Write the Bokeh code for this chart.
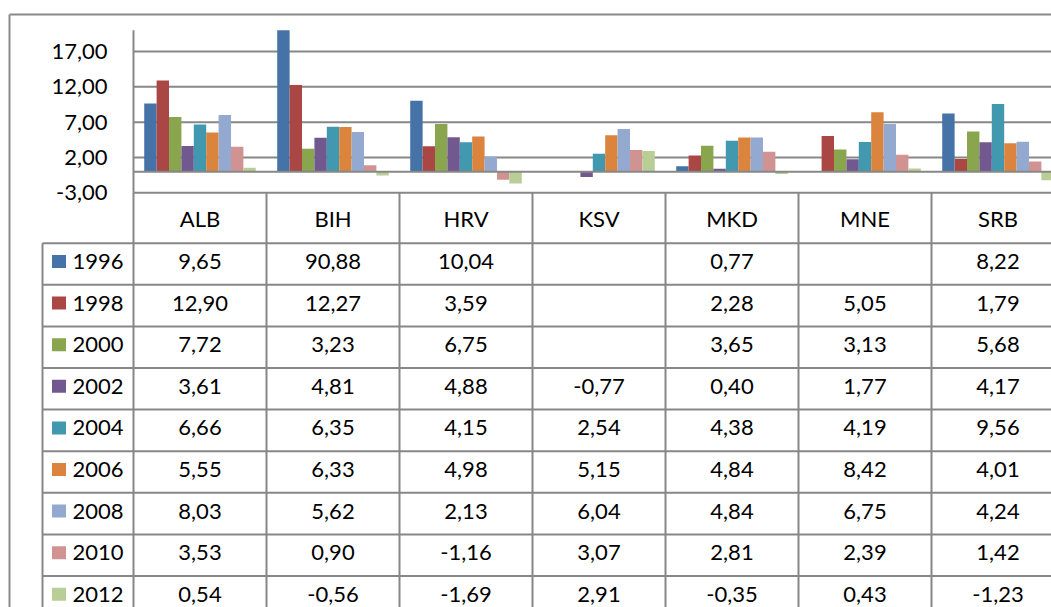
from bokeh.plotting import figure
from bokeh.models import Range1d
from bokeh.core.properties import value
from bokeh.embed import file_html
from bokeh.resources import INLINE

# ---------------- data ----------------
categories = ["ALB", "BIH", "HRV", "KSV", "MKD", "MNE", "SRB"]
years = ["1996", "1998", "2000", "2002", "2004", "2006", "2008", "2010", "2012"]
v1996 = [9.65, 90.88, 10.04, None, 0.77, None, 8.22]
v1998 = [12.90, 12.27, 3.59, None, 2.28, 5.05, 1.79]
v2000 = [7.72, 3.23, 6.75, None, 3.65, 3.13, 5.68]
v2002 = [3.61, 4.81, 4.88, -0.77, 0.40, 1.77, 4.17]
v2004 = [6.66, 6.35, 4.15, 2.54, 4.38, 4.19, 9.56]
v2006 = [5.55, 6.33, 4.98, 5.15, 4.84, 8.42, 4.01]
v2008 = [8.03, 5.62, 2.13, 6.04, 4.84, 6.75, 4.24]
v2010 = [3.53, 0.90, -1.16, 3.07, 2.81, 2.39, 1.42]
v2012 = [0.54, -0.56, -1.69, 2.91, -0.35, 0.43, -1.23]
series = [v1996, v1998, v2000, v2002, v2004, v2006, v2008, v2010, v2012]
colors = ["#4572A7", "#AA4643", "#89A54E", "#71588F", "#4198AF",
          "#DB843D", "#93A9CF", "#D19392", "#B9CD96"]
tick_values = [-3, 2, 7, 12, 17]
VMIN, VMAX = -3, 20

# ---------------- layout constants (pixels) ----------------
W, H = 1051, 607
X0, Y0 = 0, 0                 # figure origin in picture coordinates
PLOT_LEFT = 133               # left edge of category axis
CAT_W = 133                   # width of one category
Y_TICK2 = 157                 # pixel of value 2
PX_PER_UNIT = 7.067
HEADER_BOTTOM = 242.7
ROW_H = 41.6
TEXT_LIFT = 2.5               # texts sit slightly above the row centre
LEG_LEFT = 42
FONT = "Lato"
FS = "22px"
GRID = "#878787"

def val_at(y):
    return 2 + (Y_TICK2 - y) / PX_PER_UNIT

def cat_at(x):
    return (x - PLOT_LEFT) / CAT_W

p = figure(width=W, height=H, output_backend="svg", toolbar_location=None,
           x_range=Range1d(X0, X0 + W), y_range=Range1d(Y0 + H, Y0),
           x_axis_location=None, y_axis_location=None, min_border=0,
           outline_line_color=None, background_fill_color="white")
p.grid.visible = False
p.extra_x_ranges = {"cat": Range1d(cat_at(X0), cat_at(X0 + W))}
p.extra_y_ranges = {"val": Range1d(val_at(Y0 + H), val_at(Y0))}

ncat = len(categories)
nser = len(series)
bar_w = 0.0932

# gridlines (behind bars)
grid_vals = [t for t in tick_values if t > VMIN]
p.segment(x0=[0] * len(grid_vals), x1=[ncat] * len(grid_vals), y0=grid_vals, y1=grid_vals,
          x_range_name="cat", y_range_name="val", line_color=GRID, line_width=2)

# bars
for j, (vals, col) in enumerate(zip(series, colors)):
    xs, tops = [], []
    for i, v in enumerate(vals):
        if v is None:
            continue
        xs.append(i + 0.5 + (j - (nser - 1) / 2) * bar_w)
        tops.append(min(v, VMAX))
    p.vbar(x=xs, top=tops, bottom=0, width=bar_w, fill_color=col, line_color=None,
           x_range_name="cat", y_range_name="val")

# zero line and -3 line (table top)
p.segment(x0=[0, 0], x1=[ncat, ncat], y0=[0, VMIN], y1=[0, VMIN],
          x_range_name="cat", y_range_name="val", line_color=GRID, line_width=2)
# value axis line
p.segment(x0=[0], x1=[0], y0=[VMIN], y1=[VMAX], x_range_name="cat", y_range_name="val",
          line_color=GRID, line_width=2)

# tick labels
p.text(x=[107] * len(tick_values), y=tick_values,
       text=[f"{t:.2f}".replace(".", ",") for t in tick_values],
       y_range_name="val", text_align="right", text_baseline="middle",
       text_font=value(FONT), text_font_size=FS, text_color="black")

# table: column lines
top_px = Y_TICK2 + (2 - VMIN) * PX_PER_UNIT
p.segment(x0=list(range(ncat + 1)), x1=list(range(ncat + 1)),
          y0=[top_px] * (ncat + 1), y1=[Y0 + H] * (ncat + 1),
          x_range_name="cat", line_color=GRID, line_width=2)
# legend column left line
p.segment(x0=[LEG_LEFT], x1=[LEG_LEFT], y0=[HEADER_BOTTOM], y1=[Y0 + H],
          line_color=GRID, line_width=2)
# row lines
row_lines = [HEADER_BOTTOM + ROW_H * k for k in range(nser + 1)]
p.segment(x0=[LEG_LEFT] * len(row_lines), x1=[X0 + W] * len(row_lines),
          y0=row_lines, y1=row_lines, line_color=GRID, line_width=2)

# header labels
header_y = (top_px + HEADER_BOTTOM) / 2
p.text(x=[i + 0.5 for i in range(ncat)], y=[header_y] * ncat, text=categories,
       x_range_name="cat", text_align="center", text_baseline="middle",
       text_font=value(FONT), text_font_size=FS, text_color="black")

# cell values
cx, cy, ct = [], [], []
for j, vals in enumerate(series):
    for i, v in enumerate(vals):
        if v is None:
            continue
        cx.append(i + 0.5)
        cy.append(HEADER_BOTTOM + ROW_H * (j + 0.5) - TEXT_LIFT)
        ct.append(f"{v:.2f}".replace(".", ","))
p.text(x=cx, y=cy, text=ct, x_range_name="cat", text_align="center", text_baseline="middle",
       text_font=value(FONT), text_font_size=FS, text_color="black")

# legend keys and year labels
row_c = [HEADER_BOTTOM + ROW_H * (j + 0.5) - TEXT_LIFT for j in range(nser)]
p.rect(x=[58.5] * nser, y=row_c, width=14, height=13, fill_color=colors, line_color=None)
p.text(x=[72] * nser, y=row_c, text=years, text_align="left", text_baseline="middle",
       text_font=value(FONT), text_font_size=FS, text_color="black")

# outer chart border
p.segment(x0=[9, 9], x1=[9, X0 + W], y0=[14, 14], y1=[Y0 + H, 14],
          line_color="#8a8a8a", line_width=2)

open("out.html", "w").write(file_html(p, INLINE))
